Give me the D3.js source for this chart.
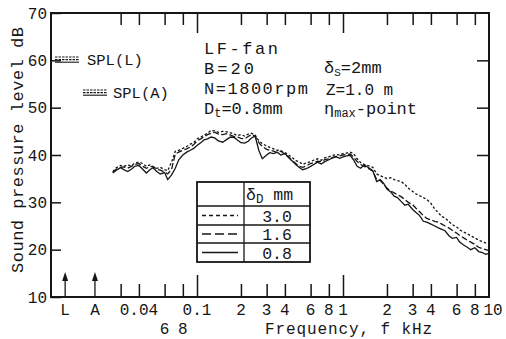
<!DOCTYPE html>
<html>
<head>
<meta charset="utf-8">
<script src="https://d3js.org/d3.v7.min.js"></script>
<style>
  body { margin: 0; background: #fff; }
  svg { display: block; font-family: 'Liberation Mono', 'Courier New', monospace; fill: #161616; }
</style>
</head>
<body>
<svg id="chart"></svg>
<script>
// frequency points in kHz (1/40 decade steps)
const freqs = [0.0265, 0.028, 0.030, 0.0315, 0.0335, 0.0355, 0.0375, 0.040, 0.0425, 0.045, 0.0475, 0.050, 0.053, 0.056, 0.060, 0.063, 0.067, 0.071, 0.075, 0.080, 0.085, 0.090, 0.095,
  0.10, 0.106, 0.112, 0.118, 0.125, 0.132, 0.14, 0.15, 0.16, 0.17, 0.18, 0.19, 0.20, 0.212, 0.224, 0.236, 0.25, 0.265, 0.28, 0.30, 0.315, 0.335, 0.355, 0.375, 0.40, 0.425, 0.45, 0.475, 0.50, 0.53, 0.56, 0.60, 0.63, 0.67, 0.71, 0.75, 0.80, 0.85, 0.90, 0.95,
  1.0, 1.06, 1.12, 1.18, 1.25, 1.32, 1.4, 1.5, 1.6, 1.7, 1.8, 1.9, 2.0, 2.12, 2.24, 2.36, 2.5, 2.65, 2.8, 3.0, 3.15, 3.35, 3.55, 3.75, 4.0, 4.25, 4.5, 4.75, 5.0, 5.3, 5.6, 6.0, 6.3, 6.7, 7.1, 7.5, 8.0, 8.5, 9.0, 9.5, 10.0];

// SPL in dB for deltaD = 3.0, 1.6, 0.8 mm
const spl30 = [36.5, 37.3, 37.8, 37.6, 37.9, 37.7, 38.3, 38.5, 38.2, 37.6, 37.9, 37.5, 37.2, 37.4, 36.9, 36.7, 38.5, 40.8, 41.0, 41.4, 41.8, 42.3, 42.6,
  43.4, 43.8, 44.2, 44.6, 45.2, 45.1, 44.8, 45.0, 44.9, 44.7, 44.4, 44.1, 44.3, 44.0, 44.4, 44.6, 44.2, 43.0, 42.4, 41.9, 41.6, 41.3, 41.0, 40.9, 40.5, 40.0, 39.4, 38.8, 38.6, 38.0, 38.3, 38.6, 38.9, 39.2, 38.9, 39.4, 39.6, 39.9, 40.1, 40.0,
  40.3, 40.4, 40.6, 40.3, 39.2, 38.4, 38.0, 37.7, 37.4, 36.0, 35.6, 35.3, 35.0, 35.2, 34.8, 34.6, 34.4, 33.8, 33.0, 32.3, 31.8, 31.4, 31.0, 30.6, 29.8, 28.6, 27.8, 27.0, 26.7, 26.0, 25.3, 24.8, 24.2, 23.7, 23.4, 22.9, 22.5, 22.0, 21.7, 21.4, 21.6];
const spl16 = [36.3, 37.0, 37.4, 37.5, 37.2, 37.6, 38.0, 38.2, 37.6, 37.2, 37.5, 37.6, 37.0, 36.8, 36.4, 36.0, 37.0, 40.2, 40.6, 41.0, 41.3, 41.7, 42.2,
  43.0, 43.4, 43.9, 44.3, 44.6, 44.8, 44.4, 44.3, 44.5, 44.2, 43.9, 43.8, 43.5, 43.4, 43.9, 44.3, 44.0, 42.6, 41.8, 41.2, 41.0, 40.8, 40.5, 40.8, 40.2, 39.6, 38.8, 38.2, 37.6, 37.4, 37.7, 38.2, 38.4, 38.7, 38.6, 39.0, 39.2, 39.5, 39.7, 39.8,
  40.0, 40.1, 40.2, 39.6, 38.6, 38.0, 37.6, 37.1, 36.6, 34.8, 34.6, 33.8, 33.0, 32.4, 32.0, 31.6, 31.2, 30.6, 30.0, 29.5, 28.8, 28.0, 27.2, 26.6, 26.3, 26.0, 25.8, 25.4, 25.0, 24.6, 24.1, 23.5, 23.0, 22.5, 22.0, 21.6, 21.1, 20.5, 20.2, 20.0, 19.8];
const spl08 = [36.2, 36.8, 37.3, 36.9, 36.5, 37.0, 37.6, 37.8, 37.0, 36.2, 36.9, 37.3, 36.5, 36.0, 36.3, 34.8, 35.8, 37.2, 39.0, 40.0, 40.6, 41.0, 41.4,
  42.0, 42.6, 43.2, 43.4, 43.8, 43.6, 43.0, 42.7, 43.3, 43.8, 43.7, 43.1, 42.6, 42.5, 42.9, 43.6, 44.0, 41.0, 39.2, 40.0, 40.5, 40.3, 40.6, 40.0, 40.3, 39.4, 38.7, 38.0, 37.4, 36.9, 37.1, 37.6, 38.0, 38.5, 38.1, 38.6, 39.0, 39.4, 39.6, 39.3,
  39.6, 39.8, 39.9, 39.0, 37.6, 37.2, 37.9, 37.3, 36.7, 34.4, 34.8, 34.0, 32.8, 32.2, 31.3, 31.0, 30.2, 29.4, 29.6, 28.5, 27.9, 27.2, 26.0, 25.8, 25.4, 25.0, 24.6, 24.3, 24.0, 23.0, 22.4, 22.6, 21.6, 21.0, 20.5, 20.0, 20.4, 19.6, 19.4, 19.0, 19.2];

const seriesNames = ['3.0', '1.6', '0.8'];
const seriesDash = ['2.5,2', '6,2.5', null];

const yTicks = [10, 20, 30, 40, 50, 60, 70];
const yTicksRight = [30, 40, 50, 60];
const xMinorTicks = [0.03, 0.04, 0.06, 0.08, 0.2, 0.3, 0.4, 0.6, 0.8, 2, 3, 4, 6, 8];
const xMajorTicks = [0.1, 1];
const xLabelVals = [0.04, 0.1, 0.2, 0.3, 0.4, 0.6, 0.8, 1, 2, 3, 4, 6, 8];
const xLabelText = ['0.04', '0.1', '2', '3', '4', '6', '8', '1', '2', '3', '4', '6', '8'];
const xLabel2Vals = [0.06, 0.08];
const xLabel2Text = ['6', '8'];
const markerVals = [0.0125, 0.02];
const markerText = ['L', 'A'];

const W = 506, H = 339;
const margin = { top: 13, right: 17, bottom: 42, left: 51 };
const width = W - margin.left - margin.right;
const height = H - margin.top - margin.bottom;
const ink = '#161616';

const svg = d3.select('#chart').attr('width', W).attr('height', H);
const g = svg.append('g').attr('transform', 'translate(' + margin.left + ',' + margin.top + ')');

const x = d3.scaleLog().domain([0.01, 10]).range([0, width]);
const y = d3.scaleLinear().domain([10, 70]).range([height, 0]);

// axes (ticks drawn inward)
function tickStyle(sel) {
  sel.select('.domain').remove();
  sel.attr('font-family', null);
  sel.selectAll('.tick line').attr('stroke', ink).attr('stroke-width', 1.5);
  sel.selectAll('.tick text').attr('font-size', 16).attr('fill', ink);
}
g.append('g').call(d3.axisLeft(y).tickValues(yTicks).tickSize(-10).tickPadding(4).tickFormat(d3.format('d'))).call(tickStyle);
g.append('g').attr('transform', 'translate(' + width + ',0)')
  .call(d3.axisRight(y).tickValues(yTicksRight).tickSize(-12).tickFormat('')).call(tickStyle);
g.append('g').attr('transform', 'translate(0,' + height + ')')
  .call(d3.axisBottom(x).tickValues(xMinorTicks).tickSize(-13).tickFormat('')).call(tickStyle);
g.append('g').attr('transform', 'translate(0,' + height + ')')
  .call(d3.axisBottom(x).tickValues(xMajorTicks).tickSize(-22).tickFormat('')).call(tickStyle);
g.append('g').call(d3.axisTop(x).tickValues(xMinorTicks).tickSize(-12).tickFormat('')).call(tickStyle);
g.append('g').call(d3.axisTop(x).tickValues(xMajorTicks).tickSize(-20).tickFormat('')).call(tickStyle);

// x labels
const lab = g.append('g').attr('font-size', 16).attr('text-anchor', 'middle');
lab.selectAll('text.r1').data(xLabelVals).enter().append('text')
  .attr('x', d => x(d)).attr('y', height + 18).text((d, i) => xLabelText[i]);
lab.append('text').attr('x', x(10) + 4).attr('y', height + 18).text('10');
lab.selectAll('text.r2').data(xLabel2Vals).enter().append('text')
  .attr('x', d => x(d)).attr('y', height + 37).text((d, i) => xLabel2Text[i]);
lab.selectAll('text.m').data(markerVals).enter().append('text')
  .attr('x', d => x(d)).attr('y', height + 18).text((d, i) => markerText[i]);

// L / A arrows
markerVals.forEach(v => {
  const px = x(v);
  g.append('line').attr('x1', px).attr('x2', px).attr('y1', height).attr('y2', height - 22)
    .attr('stroke', ink).attr('stroke-width', 1.3);
  g.append('path').attr('d', 'M' + (px - 3) + ',' + (height - 16) + 'L' + px + ',' + (height - 25) + 'L' + (px + 3) + ',' + (height - 16) + 'Z')
    .attr('fill', ink);
});

// titles
svg.append('text').attr('x', 265).attr('y', 334).attr('font-size', 16).attr('textLength', 167)
  .text('Frequency, f  kHz');
svg.append('text').attr('transform', 'translate(23,150) rotate(-90)').attr('text-anchor', 'middle')
  .attr('font-size', 17).attr('textLength', 246).text('Sound pressure level  dB');

// curves
const curves = [spl30, spl16, spl08];
const line = d3.line().x(d => x(d[0])).y(d => y(d[1]));
curves.forEach((vals, i) => {
  g.append('path').datum(freqs.map((f, j) => [f, vals[j]]))
    .attr('d', line).attr('fill', 'none').attr('stroke', ink)
    .attr('stroke-width', 1.3).attr('stroke-dasharray', seriesDash[i]);
});

// frame
g.append('rect').attr('width', width).attr('height', height)
  .attr('fill', 'none').attr('stroke', ink).attr('stroke-width', 2);

// SPL(L) / SPL(A) legend
function splSymbol(x0, y0) {
  seriesDash.forEach((d, i) => {
    svg.append('line').attr('x1', x0).attr('x2', x0 + 24).attr('y1', y0 + i * 2.6).attr('y2', y0 + i * 2.6)
      .attr('stroke', ink).attr('stroke-width', 1.1).attr('stroke-dasharray', d ? '2.5,1' : null);
  });
}
splSymbol(55, 57);
svg.append('text').attr('x', 87).attr('y', 65).attr('font-size', 15.5).text('SPL(L)');
splSymbol(83, 90);
svg.append('text').attr('x', 113).attr('y', 98).attr('font-size', 15.5).text('SPL(A)');

// conditions block
const info = svg.append('g').attr('font-size', 17);
info.append('text').attr('x', 204).attr('y', 54).attr('textLength', 74).text('LF-fan');
info.append('text').attr('x', 204).attr('y', 74).attr('textLength', 50).text('B=20');
info.append('text').attr('x', 204).attr('y', 94).attr('textLength', 104).text('N=1800rpm');
const dt = info.append('text').attr('x', 204).attr('y', 114);
dt.append('tspan').text('D');
dt.append('tspan').attr('font-size', 12).attr('dy', 3).text('t');
dt.append('tspan').attr('dy', -3).text('=0.8mm');
const ds = info.append('text').attr('x', 324).attr('y', 73);
ds.append('tspan').text('δ');
ds.append('tspan').attr('font-size', 11).attr('dy', 3).text('S');
ds.append('tspan').attr('dy', -3).text('=2mm');
info.append('text').attr('x', 326).attr('y', 95).attr('font-size', 16).text('Z=1.0 m');
const eta = info.append('text').attr('x', 324).attr('y', 114);
eta.append('tspan').text('η');
eta.append('tspan').attr('font-size', 12).attr('dy', 3).text('max');
eta.append('tspan').attr('dy', -3).text('-point');

// deltaD legend table
const tb = svg.append('g').attr('transform', 'translate(197,182)');
const tw = 113, tc = 47, rows = [0, 24, 43, 61, 80];
tb.append('rect').attr('width', tw).attr('height', rows[4]).attr('fill', '#fff')
  .attr('stroke', ink).attr('stroke-width', 1.8);
tb.append('line').attr('x1', tc).attr('x2', tc).attr('y1', 0).attr('y2', rows[4]).attr('stroke', ink).attr('stroke-width', 1.3);
rows.slice(1, 4).forEach(r => {
  tb.append('line').attr('x1', 0).attr('x2', tw).attr('y1', r).attr('y2', r).attr('stroke', ink).attr('stroke-width', 1.3);
});
const hd = tb.append('text').attr('x', 49).attr('y', 18).attr('font-size', 16.5);
hd.append('tspan').text('δ');
hd.append('tspan').attr('font-size', 12.5).attr('dy', 3).text('D');
hd.append('tspan').attr('dy', -3).text('  mm');
const legDash = ['4,3', '9,4', null];
seriesNames.forEach((name, i) => {
  const yc = (rows[i + 1] + rows[i + 2]) / 2;
  tb.append('line').attr('x1', 5).attr('x2', 41).attr('y1', yc).attr('y2', yc)
    .attr('stroke', ink).attr('stroke-width', 1.3).attr('stroke-dasharray', legDash[i]);
  tb.append('text').attr('x', 80).attr('y', yc + 6).attr('text-anchor', 'middle').attr('font-size', 16.5).text(name);
});
</script>
</body>
</html>
